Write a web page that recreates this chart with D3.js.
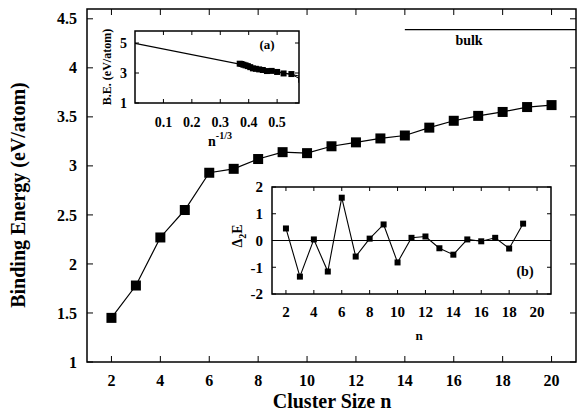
<!DOCTYPE html>
<html>
<head>
<meta charset="utf-8">
<script src="https://cdn.jsdelivr.net/npm/d3@7"></script>
<style>
  body { margin: 0; background: #fff; }
  text { font-family: "Liberation Serif", "DejaVu Serif", "Times New Roman", serif; font-weight: bold; }
</style>
</head>
<body>
<div id="chart"></div>
<script>
// cluster sizes and binding energy (eV/atom)
const sizes = [2, 3, 4, 5, 6, 7, 8, 9, 10, 11, 12, 13, 14, 15, 16, 17, 18, 19, 20];
const bindingEnergy = [1.45, 1.78, 2.27, 2.55, 2.93, 2.97, 3.07, 3.14, 3.13, 3.20,
  3.24, 3.28, 3.31, 3.39, 3.46, 3.51, 3.55, 3.60, 3.62];
const bulkValue = 4.39;
const bulkStart = 14;

// inset (a): linear fit against n^-1/3
const fitX = [0, 0.577];
const fitY = [4.97, 2.8];

// inset (b): second difference of energy
const d2Sizes = [2, 3, 4, 5, 6, 7, 8, 9, 10, 11, 12, 13, 14, 15, 16, 17, 18, 19];
const d2E = [0.45, -1.35, 0.04, -1.16, 1.6, -0.6, 0.07, 0.6, -0.82, 0.1,
  0.15, -0.29, -0.53, 0.04, -0.03, 0.1, -0.3, 0.63];

const mainXTicks = [2, 4, 6, 8, 10, 12, 14, 16, 18, 20];
const mainYTicks = [1, 1.5, 2, 2.5, 3, 3.5, 4, 4.5];
const aXTicks = [0.1, 0.2, 0.3, 0.4, 0.5];
const aYTicks = [1, 3, 5];
const bXTicks = [2, 4, 6, 8, 10, 12, 14, 16, 18, 20];
const bYTicks = [-2, -1, 0, 1, 2];

const W = 577, H = 413;
const svg = d3.select("#chart").append("svg").attr("width", W).attr("height", H)
  .attr("font-family", "Liberation Serif, serif").attr("font-weight", "bold");

function frame(g, x, y, xt, yt, tickLen, fontSize, xFmt, yFmt, strokeW, xGap, yGap) {
  const [x0, x1] = x.range();
  const [y0, y1] = y.range();
  const ax = g.append("g");
  // bottom + top ticks
  xt.forEach((t) => {
    ax.append("line").attr("x1", x(t)).attr("x2", x(t)).attr("y1", y0).attr("y2", y0 - tickLen);
    ax.append("line").attr("x1", x(t)).attr("x2", x(t)).attr("y1", y1).attr("y2", y1 + tickLen);
    g.append("text").attr("x", x(t)).attr("y", y0 + xGap).attr("dy", "0.35em")
      .attr("text-anchor", "middle").attr("font-size", fontSize).text(xFmt(t));
  });
  yt.forEach((t) => {
    ax.append("line").attr("x1", x0).attr("x2", x0 + tickLen).attr("y1", y(t)).attr("y2", y(t));
    ax.append("line").attr("x1", x1).attr("x2", x1 - tickLen).attr("y1", y(t)).attr("y2", y(t));
    g.append("text").attr("x", x0 - yGap).attr("y", y(t)).attr("dy", "0.35em")
      .attr("text-anchor", "end").attr("font-size", fontSize).text(yFmt(t));
  });
  ax.selectAll("line").attr("stroke", "#000").attr("stroke-width", 1);
  g.append("rect").attr("x", x0).attr("y", y1).attr("width", x1 - x0).attr("height", y0 - y1)
    .attr("fill", "none").attr("stroke", "#000").attr("stroke-width", strokeW);
}

// ---------- main plot ----------
const x = d3.scaleLinear().domain([1, 21]).range([87, 576]);
const y = d3.scaleLinear().domain([1, 4.6]).range([362, 9]);
const main = svg.append("g");
frame(main, x, y, mainXTicks, mainYTicks, 6, 16, (d) => d, (d) => d, 1.5, 18, 10);

main.append("line").attr("x1", x(bulkStart)).attr("x2", x.range()[1])
  .attr("y1", y(bulkValue)).attr("y2", y(bulkValue)).attr("stroke", "#000").attr("stroke-width", 1.3);
main.append("text").attr("x", 469).attr("y", y(bulkValue) + 15)
  .attr("text-anchor", "middle").attr("font-size", 14).text("bulk");

const mainData = sizes.map((n, i) => [n, bindingEnergy[i]]);
main.append("path").datum(mainData)
  .attr("d", d3.line().x((d) => x(d[0])).y((d) => y(d[1])))
  .attr("fill", "none").attr("stroke", "#000").attr("stroke-width", 1.2);
main.selectAll(".pt").data(mainData).enter().append("rect")
  .attr("x", (d) => x(d[0]) - 5).attr("y", (d) => y(d[1]) - 5)
  .attr("width", 10).attr("height", 10).attr("fill", "#000");

main.append("text").attr("transform", "translate(25,195) rotate(-90)")
  .attr("text-anchor", "middle").attr("font-size", 20).text("Binding Energy (eV/atom)");
main.append("text").attr("x", 332).attr("y", 408)
  .attr("text-anchor", "middle").attr("font-size", 20).text("Cluster Size n");

// ---------- inset (a) ----------
const xa = d3.scaleLinear().domain([0, 0.577]).range([135, 299]);
const ya = d3.scaleLinear().domain([1, 5.8]).range([103, 31]);
const ga = svg.append("g");
ga.append("rect").attr("x", 135).attr("y", 31).attr("width", 164).attr("height", 72).attr("fill", "#fff");
svg.append("clipPath").attr("id", "clipA").append("rect")
  .attr("x", 135).attr("y", 31).attr("width", 164).attr("height", 72);
const aData = sizes.map((n, i) => [Math.pow(n, -1 / 3), bindingEnergy[i]]);
const ca = ga.append("g").attr("clip-path", "url(#clipA)");
ca.append("line").attr("x1", xa(fitX[0])).attr("y1", ya(fitY[0]))
  .attr("x2", xa(fitX[1])).attr("y2", ya(fitY[1])).attr("stroke", "#000").attr("stroke-width", 1.2);
ca.append("path").datum(aData)
  .attr("d", d3.line().x((d) => xa(d[0])).y((d) => ya(d[1])))
  .attr("fill", "none").attr("stroke", "#000").attr("stroke-width", 1);
ca.selectAll(".pa").data(aData).enter().append("rect")
  .attr("x", (d) => xa(d[0]) - 3).attr("y", (d) => ya(d[1]) - 3)
  .attr("width", 6).attr("height", 6).attr("fill", "#000");
frame(ga, xa, ya, aXTicks, aYTicks, 4, 14, d3.format(".1f"), (d) => d, 1.5, 19, 8);
ga.append("text").attr("x", 267).attr("y", 49).attr("text-anchor", "middle")
  .attr("font-size", 13).text("(a)");
ga.append("text").attr("transform", "translate(111,67) rotate(-90)")
  .attr("text-anchor", "middle").attr("font-size", 12).text("B.E. (eV/atom)");
const na = ga.append("text").attr("x", 220).attr("y", 146).attr("text-anchor", "middle").attr("font-size", 14);
na.append("tspan").text("n");
na.append("tspan").attr("dy", -7).attr("font-size", 10).text("-1/3");

// ---------- inset (b) ----------
const xb = d3.scaleLinear().domain([1, 21]).range([272, 551]);
const yb = d3.scaleLinear().domain([-2, 2]).range([294, 187]);
const gb = svg.append("g");
gb.append("rect").attr("x", 272).attr("y", 187).attr("width", 279).attr("height", 107).attr("fill", "#fff");
gb.append("line").attr("x1", 272).attr("x2", 551).attr("y1", yb(0)).attr("y2", yb(0))
  .attr("stroke", "#000").attr("stroke-width", 1.2);
const bData = d2Sizes.map((n, i) => [n, d2E[i]]);
gb.append("path").datum(bData)
  .attr("d", d3.line().x((d) => xb(d[0])).y((d) => yb(d[1])))
  .attr("fill", "none").attr("stroke", "#000").attr("stroke-width", 1.1);
gb.selectAll(".pb").data(bData).enter().append("rect")
  .attr("x", (d) => xb(d[0]) - 3).attr("y", (d) => yb(d[1]) - 3)
  .attr("width", 6).attr("height", 6).attr("fill", "#000");
frame(gb, xb, yb, bXTicks, bYTicks, 4, 15, (d) => d, (d) => d, 1.5, 18, 9);
gb.append("text").attr("x", 525).attr("y", 276).attr("text-anchor", "middle")
  .attr("font-size", 14).text("(b)");
gb.append("text").attr("x", 419).attr("y", 340).attr("text-anchor", "middle")
  .attr("font-size", 13).text("n");
const db = gb.append("text").attr("transform", "translate(242,236) rotate(-90)")
  .attr("text-anchor", "middle").attr("font-size", 14);
db.append("tspan").text("Δ");
db.append("tspan").attr("dy", 4).attr("font-size", 10).text("2");
db.append("tspan").attr("dy", -4).text("E");
</script>
</body>
</html>
